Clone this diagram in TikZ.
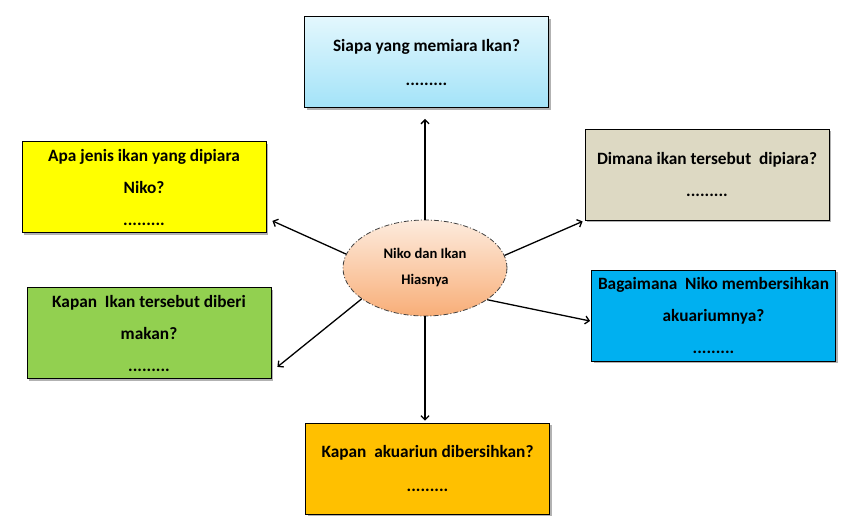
\documentclass[tikz,border=0pt]{standalone}
\usepackage{fontspec}
\setmainfont{Carlito}
\usepackage{xcolor}
\definecolor{skytop}{HTML}{E3F7FD}
\definecolor{skybot}{HTML}{A3E3F8}
\definecolor{lemon}{HTML}{FFFF00}
\definecolor{sand}{HTML}{DDD9C3}
\definecolor{leaf}{HTML}{92D050}
\definecolor{ocean}{HTML}{00B0F0}
\definecolor{amber}{HTML}{FFC000}
\definecolor{peachtop}{HTML}{FDEBDD}
\definecolor{peachbot}{HTML}{F8AE78}
\usetikzlibrary{shapes.geometric, arrows.meta, positioning, calc, shadows}

\begin{document}
\begin{tikzpicture}[x=1pt, y=-1pt,
  every node/.style={font=\bfseries},
  qbox/.style={draw=black, line width=0.8pt, minimum width=244pt, minimum height=91pt,
    align=center, inner sep=0pt, font=\bfseries\fontsize{17.3}{32}\selectfont,
    drop shadow={shadow xshift=2pt, shadow yshift=-2pt, fill=black, opacity=0.3}},
  topic/.style={ellipse, draw=black!75, line width=0.8pt,
    dash pattern=on 5pt off 2pt on 1pt off 2pt,
    minimum width=164pt, minimum height=96pt, inner sep=0pt, align=center,
    top color=peachtop, bottom color=peachbot,
    font=\bfseries\fontsize{14.6}{26}\selectfont},
  spoke/.style={line width=1.3pt, -{Straight Barb[length=4pt, width=8pt]}}
]
  % Canvas
  \fill[white] (0,0) rectangle (861,520);
  \useasboundingbox (0,0) rectangle (861,520);

  \def\blank{.........}

  % Centre topic
  \node[topic] (niko) at (425,268) {Niko dan Ikan\\Hiasnya};

  % Question boxes
  \node[qbox, top color=skytop, bottom color=skybot] (siapa) at (426.5,62)
    {Siapa yang memiara Ikan?\\[2pt]\blank};
  \node[qbox, fill=lemon] (jenis) at (144,187)
    {Apa jenis ikan yang dipiara\\Niko?\\\blank};
  \node[qbox, fill=sand] (dimana) at (707,174.5)
    {Dimana ikan tersebut\ \ dipiara?\\\blank};
  \node[qbox, fill=leaf] (makan) at (149,333)
    {Kapan\ \ Ikan tersebut diberi\\makan?\\\blank};
  \node[qbox, fill=ocean] (bersih) at (713.5,315.5)
    {Bagaimana\ \ Niko membersihkan\\akuariumnya?\\\blank};
  \node[qbox, fill=amber] (kapan) at (427.5,468.5)
    {Kapan\ \ akuariun dibersihkan?\\[2pt]\blank};

  % Spokes
  \draw[spoke, shorten >=11pt] (niko.north) -- (niko.north |- siapa.south);
  \draw[spoke, shorten >=2pt] (niko.south) -- (niko.south |- kapan.north);
  \draw[spoke] (niko.170) -- ($(jenis.south east)+(6,-12)$);
  \draw[spoke] (niko.9) -- ($(dimana.south west)+(-2,1)$);
  \draw[spoke] (niko.206) -- ($(makan.south east)+(6,-12)$);
  \draw[spoke] (niko.333) -- ($(bersih.west)+(-1,5.5)$);
\end{tikzpicture}
\end{document}
